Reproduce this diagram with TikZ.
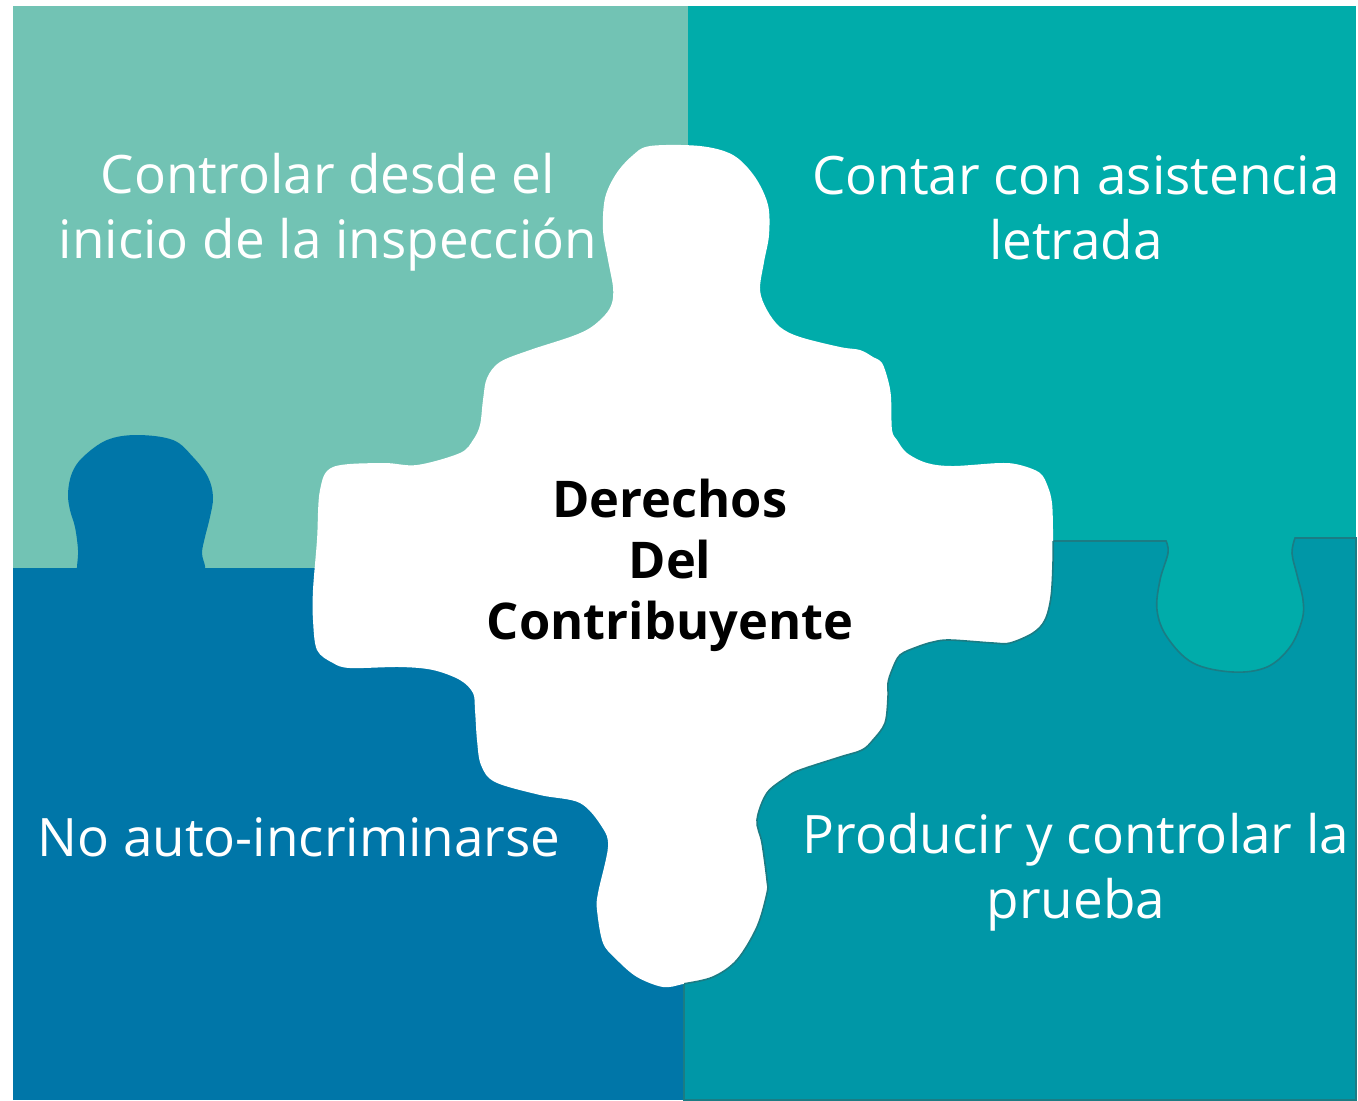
\documentclass[tikz,border=0pt]{standalone}
\usepackage{fontspec}
\setmainfont{Open Sans}
\definecolor{cTL}{HTML}{72C3B4}
\definecolor{cTR}{HTML}{00ACAA}
\definecolor{cBL}{HTML}{0076A8}
\definecolor{cBR}{HTML}{0097A7}
\definecolor{cEdge}{HTML}{1B7C84}
\tikzset{
  lbl/.style={text=white,align=center,font=\fontsize{26.5}{32.5}\selectfont,inner sep=0pt},
  ctr/.style={text=black,align=center,font=\fontsize{25.3}{30.5}\selectfont\bfseries,inner sep=0pt},
}
\begin{document}
\begin{tikzpicture}[x=0.5pt,y=-0.5pt]
\useasboundingbox (0,0) rectangle (1358,1100);
\fill[white] (0,0) rectangle (1358,1100);
% top-left piece
\fill[cTL] (13,6) rectangle (689,570);
% top-right piece (its knob lies under the notch of the bottom-right piece)
\fill[cTR] (688,6) rectangle (1356,542);
\fill[cTR] (1100,530) rectangle (1356,690);
% bottom-left piece with knob
\fill[cBL] (13,568) rectangle (685,1100);
\fill[cBL] plot[smooth,tension=0.6] coordinates {(77,575) (77,567) (78,550) (75,527) (70,510) (68,493) (72,473) (83,457) (107,440) (137,435) (173,440) (193,457) (208,477) (213,497) (210,517) (205,537) (202,553) (205,566) (205,575)} -- cycle;
% bottom-right piece with notch
\filldraw[fill=cBR,draw=cEdge,line width=0.8pt] (684,1100) -- (684,541) -- (1166,541)
  -- plot[smooth,tension=0.6] coordinates {(1166,541) (1168,553) (1160,580) (1157,610) (1167,637) (1193,663) (1233,672) (1267,667) (1290,647) (1302,620) (1303,600) (1297,575) (1292,553) (1295,538)}
  -- (1356,538) -- (1356,1100) -- cycle;
% central white piece
\def\centralpath{plot[smooth cycle,tension=0.55] coordinates {(650,146) (700,146) (733,155) (755,177) (768,205) (769,235) (764,262) (760,290) (767,310) (780,327) (800,337) (840,347) (860,350) (873,357) (882,363) (888,380) (891,397) (892,430) (897,440) (907,453) (927,463) (953,466) (1000,463) (1020,465) (1040,473) (1048,487) (1052,503) (1053,530) (1053,563) (1051,597) (1045,620) (1033,633) (1010,643) (993,643) (950,640) (933,642) (917,647) (900,655) (892,670) (888,683) (888,697) (885,723) (873,740) (862,750) (840,757) (800,770) (787,777) (767,793) (757,820) (762,843) (767,880) (767,893) (757,927) (737,960) (713,977) (683,984) (663,987) (637,977) (617,960) (603,943) (597,910) (598,893) (608,847) (602,827) (580,803) (540,795) (495,782) (481,765) (477,740) (475,710) (473,693) (460,680) (433,670) (400,667) (350,668) (333,663) (317,650) (313,620) (313,590) (317,540) (320,490) (333,467) (383,463) (417,465) (460,453) (473,440) (480,425) (483,400) (487,378) (500,362) (530,350) (570,337) (590,328) (605,315) (612,303) (613,287) (608,260) (603,230) (605,198) (616,174) (632,156)}}
\fill[white] \centralpath;
\begin{scope}
\clip (684,541) rectangle (1356,1100);
\draw[cEdge,line width=0.8pt] \centralpath;
\end{scope}
% labels
\node[lbl] (tl) at (328,212) {Controlar desde el\\inicio de la inspección};
\node[lbl] (tr) at (1076,208) {Contar con asistencia\\letrada};
\node[lbl] (bl) at (299,837) {No auto-incriminarse};
\node[lbl] (br) at (1076,872) {Producir y controlar la\\prueba};
\node[ctr] (c) at (670,565) {Derechos\\Del\\Contribuyente};
\end{tikzpicture}
\end{document}
